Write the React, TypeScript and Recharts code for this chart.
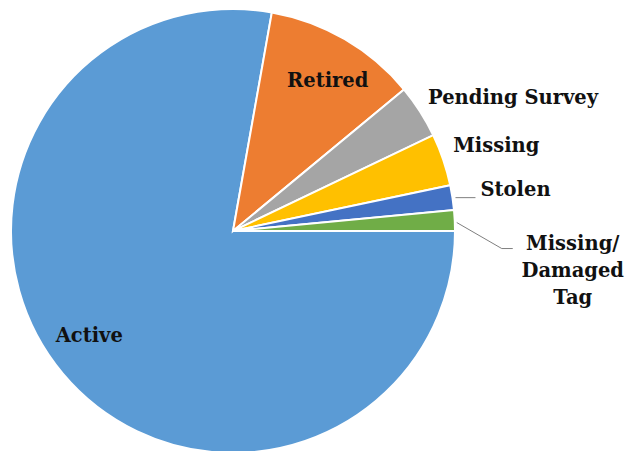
import { PieChart, Pie, Cell } from 'recharts';

const CATEGORIES = ['Active', 'Retired', 'Pending Survey', 'Missing', 'Stolen', 'Missing/ Damaged Tag'];
const VALUES = [77.8, 11.2, 3.9, 3.8, 1.8, 1.5];
const LABEL_LINES = [['Active'], ['Retired'], ['Pending Survey'], ['Missing'], ['Stolen'], ['Missing/', 'Damaged', 'Tag']];

const COLORS = ['#5B9BD5', '#ED7D31', '#A5A5A5', '#FFC000', '#4472C4', '#70AD47'];

const data = CATEGORIES.map((name, i) => ({ name, value: VALUES[i] }));

const RAD = Math.PI / 180;
const FONT = '"DejaVu Serif", serif';

function renderLabel(props: any) {
  const { cx, cy, midAngle, outerRadius, index } = props;
  const textProps = { fontFamily: FONT, fontWeight: 700, fontSize: 19.5, fill: '#111' };

  if (index <= 1) {
    // inside labels, nudged a little like Excel's best fit
    const a = (midAngle + (index === 0 ? -4 : -2)) * RAD;
    const r = outerRadius * 0.8;
    return (
      <text x={cx + r * Math.cos(-a)} y={cy + r * Math.sin(-a)} textAnchor="middle" dominantBaseline="central" {...textProps}>
        {LABEL_LINES[index][0]}
      </text>
    );
  }

  const ex = cx + outerRadius * Math.cos(-midAngle * RAD);
  const ey = cy + outerRadius * Math.sin(-midAngle * RAD);

  if (index === 2 || index === 3) {
    const dx = index === 2 ? 8 : 10;
    return (
      <text x={ex + dx} y={ey - 14} textAnchor="start" dominantBaseline="central" {...textProps}>
        {LABEL_LINES[index][0]}
      </text>
    );
  }

  if (index === 4) {
    return (
      <g>
        <line x1={ex + 3} y1={ey} x2={ex + 23} y2={ey} stroke="#7f7f7f" strokeWidth={1} />
        <text x={ex + 28} y={ey - 8} textAnchor="start" dominantBaseline="central" {...textProps}>
          {LABEL_LINES[index][0]}
        </text>
      </g>
    );
  }

  return (
    <g>
      <polyline
        points={`${ex + 2},${ey + 2} ${ex + 47},${ey + 28} ${ex + 58},${ey + 28}`}
        fill="none"
        stroke="#7f7f7f"
        strokeWidth={1}
      />
      {LABEL_LINES[index].map((line, i) => (
        <text
          key={line}
          x={ex + 118}
          y={ey + 23 + i * 27}
          textAnchor="middle"
          dominantBaseline="central"
          {...textProps}
        >
          {line}
        </text>
      ))}
    </g>
  );
}

export default function App() {
  return (
    <div style={{ position: 'absolute', left: 0, top: 0, width: 637, height: 451, background: '#fff' }}>
      <PieChart width={637} height={451} margin={{ top: 0, right: 0, bottom: 0, left: 0 }}>
        <Pie
          data={data}
          dataKey="value"
          nameKey="name"
          cx={233}
          cy={231}
          outerRadius={222}
          startAngle={0}
          endAngle={-360}
          stroke="#fff"
          strokeWidth={2}
          label={renderLabel}
          labelLine={false}
          isAnimationActive={false}
        >
          {data.map((_, i) => (
            <Cell key={i} fill={COLORS[i]} />
          ))}
        </Pie>
      </PieChart>
    </div>
  );
}
